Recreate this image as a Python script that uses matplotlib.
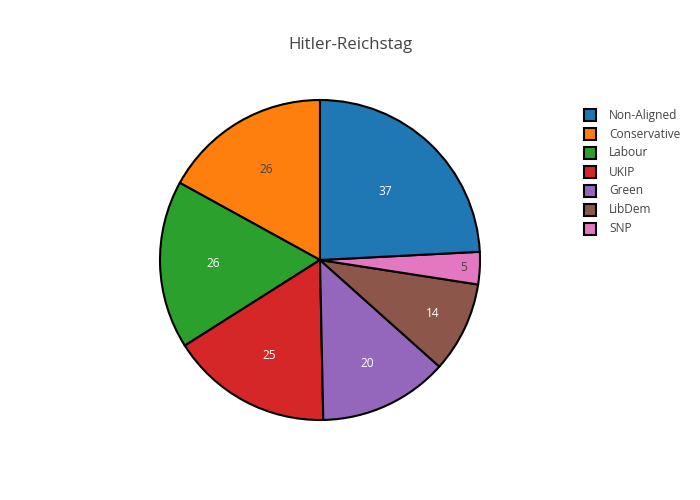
import numpy as np
import matplotlib.pyplot as plt
from matplotlib.patches import Rectangle

plt.rcParams['font.family'] = ['Open Sans', 'DejaVu Sans']

labels = ['Non-Aligned', 'Conservative', 'Labour', 'UKIP', 'Green', 'LibDem', 'SNP']
values = [37, 26, 26, 25, 20, 14, 5]
colors = ['#1f77b4', '#ff7f0e', '#2ca02c', '#d62728', '#9467bd', '#8c564b', '#e377c2']
text_colors = ['white', '#444444', 'white', 'white', 'white', 'white', '#444444']
# radial position of the value label inside each slice
label_r = [0.59, 0.66, 0.67, 0.675, 0.71, 0.78, 0.9]

W, H = 700, 500
fig = plt.figure(figsize=(7, 5), dpi=100)

# pie: centre (320, 260) px, radius 160 px
ax = fig.add_axes([160 / W, (H - 420) / H, 320 / W, 320 / H])

# Non-Aligned sits between 3 o'clock and 12 o'clock, the rest follow counterclockwise
vals = values[1:] + values[:1]
cols = colors[1:] + colors[:1]
tcols = text_colors[1:] + text_colors[:1]
rads = label_r[1:] + label_r[:1]

wedges, _ = ax.pie(vals, colors=cols, startangle=90, counterclock=True,
                   radius=1, wedgeprops=dict(edgecolor='black', linewidth=1.5))

for w, v, tc, r in zip(wedges, vals, tcols, rads):
    mid = np.deg2rad((w.theta1 + w.theta2) / 2)
    ax.text(r * np.cos(mid), r * np.sin(mid), str(v), ha='center', va='center',
            color=tc, fontsize=8.6)

ax.set_xlim(-1.0, 1.0)
ax.set_ylim(-1.0, 1.0)
ax.set_aspect('equal')
ax.axis('off')

fig.text(350 / W, 1 - 45 / H, 'Hitler-Reichstag', ha='center', va='center',
         fontsize=12.2, color='#444444')

# legend
for i, (lab, c) in enumerate(zip(labels, colors)):
    y = 115 + 19 * i
    fig.patches.append(Rectangle((584 / W, 1 - (y + 6) / H), 12 / W, 12 / H,
                                 transform=fig.transFigure, facecolor=c,
                                 edgecolor='black', linewidth=1.5))
    fig.text(609 / W, 1 - y / H, lab, ha='left', va='center',
             fontsize=8.6, color='#444444')

fig.savefig('out.png', dpi=100)
